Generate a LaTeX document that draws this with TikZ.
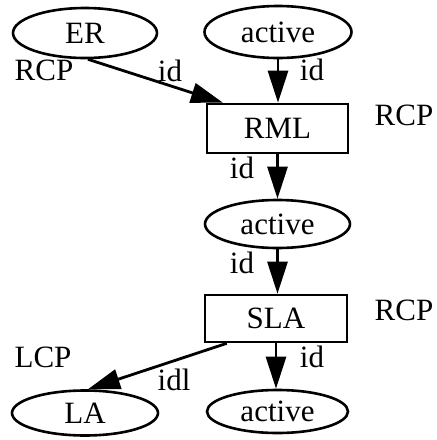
\documentclass[tikz,border=0pt]{standalone}
\usepackage{fontspec}
\setmainfont{Liberation Serif}
\usetikzlibrary{shapes.geometric,arrows.meta,calc}
\begin{document}
\begin{tikzpicture}[x=1pt,y=-1pt,
  every node/.style={font=\fontsize{31}{36}\selectfont},
  ell/.style={draw,ellipse,line width=2.6pt,inner sep=0pt},
  boxn/.style={draw,rectangle,line width=2.6pt,inner sep=0pt},
  lab/.style={inner sep=0pt},
  conn/.style={line width=2.8pt,-{Triangle[length=32pt,width=20pt]}}]
\useasboundingbox (0,0) rectangle (437,440);
\node[ell,minimum width=144pt,minimum height=50pt] (ER) at (85,33) {ER};
\node[ell,minimum width=147pt,minimum height=52pt] (A1) at (278,32) {active};
\node[boxn,minimum width=141pt,minimum height=49pt] (RML) at (277.5,128.5) {RML};
\node[ell,minimum width=145pt,minimum height=48pt] (A2) at (277.5,224) {active};
\node[boxn,minimum width=142pt,minimum height=47pt] (SLA) at (276,318.5) {SLA};
\node[ell,minimum width=146pt,minimum height=45pt] (LA) at (85,413) {LA};
\node[ell,minimum width=141pt,minimum height=43pt] (A3) at (277.5,411.5) {active};
\node[lab] (r1) at (44,70) {RCP};
\node[lab] (i1) at (170,71) {id};
\node[lab] (i2) at (312,70) {id};
\node[lab] (r2) at (404,115) {RCP};
\node[lab] (i3) at (242,168) {id};
\node[lab] (i4) at (242,263) {id};
\node[lab] (r3) at (404,310) {RCP};
\node[lab] (l1) at (43,357) {LCP};
\node[lab] (i5) at (174,380) {idl};
\node[lab] (i6) at (312,357) {id};
\coordinate (erOut) at ($(ER.south)+(3,0)$);
\coordinate (rmlIn) at ($(RML.north west)!0.12!(RML.north east)$);
\coordinate (slaOut) at ($(SLA.south west)!0.16!(SLA.south east)$);
\coordinate (laIn) at ($(LA.north)+(3,0)$);
\draw[conn] (erOut) -- (rmlIn);
\draw[conn] (A1.south) -- (A1.south |- RML.north);
\draw[conn] (RML.south) -- (RML.south |- A2.north);
\draw[conn] (A2.south) -- (A2.south |- SLA.north);
\draw[conn] (SLA.south) -- (SLA.south |- A3.north);
\draw[conn] (slaOut) -- (laIn);
\end{tikzpicture}
\end{document}
